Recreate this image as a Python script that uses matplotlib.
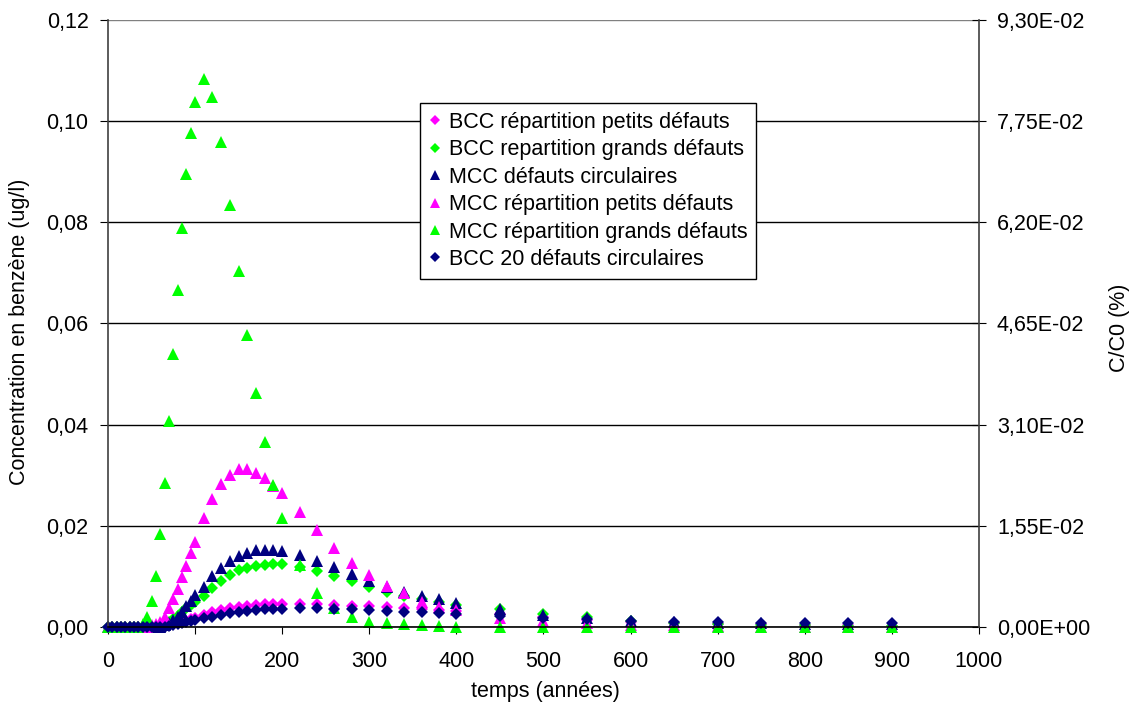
import matplotlib
matplotlib.use('Agg')
import matplotlib.pyplot as plt
from matplotlib.ticker import FuncFormatter

plt.rcParams['font.family'] = ['Liberation Sans', 'DejaVu Sans']

# temps (années)
temps = [0, 5, 10, 15, 20, 25, 30, 35, 40, 45, 50, 55, 60, 65, 70, 75, 80,
         85, 90, 95, 100,
         110, 120, 130, 140, 150, 160, 170, 180, 190, 200,
         220, 240, 260, 280, 300, 320, 340, 360, 380, 400,
         450, 500, 550, 600, 650, 700, 750, 800, 850, 900]

bcc_petits = [0, 0, 0, 0, 0, 0, 0, 0, 0, 0, 0, 0, 0.0001, 0.0002, 0.0003,
              0.0005, 0.0007, 0.0009, 0.0012, 0.0015, 0.0018,
              0.0024, 0.0029, 0.0033, 0.0037, 0.0040, 0.0042, 0.0044, 0.0045,
              0.0046, 0.0046,
              0.0046, 0.0045, 0.0044, 0.0042, 0.0041, 0.0039, 0.0037, 0.0035,
              0.0033, 0.0031,
              0.0025, 0.0019, 0.0014, 0.0010, 0.0008, 0.0006, 0.0005, 0.0004,
              0.0003, 0.0002]

bcc_grands = [0, 0, 0, 0, 0, 0, 0, 0, 0, 0, 0, 0, 0.0002, 0.0005, 0.0010,
              0.0015, 0.0022, 0.0030, 0.0037, 0.0043, 0.0049,
              0.0062, 0.0078, 0.0090, 0.0102, 0.0112, 0.0117, 0.0121, 0.0123,
              0.0124, 0.0124,
              0.0119, 0.0111, 0.0100, 0.0090, 0.0080, 0.0069, 0.0062, 0.0055,
              0.0049, 0.0044,
              0.0036, 0.0026, 0.0019, 0.0012, 0.0008, 0.0006, 0.0004, 0.0003,
              0.0002, 0.0002]

mcc_circ = [0, 0, 0, 0, 0, 0, 0, 0, 0, 0, 0, 0, 0.0001, 0.0003, 0.0007,
            0.0013, 0.0020, 0.0030, 0.0042, 0.0052, 0.0063,
            0.0080, 0.0100, 0.0116, 0.0130, 0.0141, 0.0146, 0.0152, 0.0153,
            0.0153, 0.0151,
            0.0143, 0.0131, 0.0118, 0.0105, 0.0090, 0.0079, 0.0070, 0.0062,
            0.0055, 0.0047,
            0.0035, 0.0024, 0.0017, 0.0012, 0.0009, 0.0008, 0.0007, 0.0006,
            0.0006, 0.0005]

mcc_petits = [0, 0, 0, 0, 0, 0, 0, 0, 0, 0.0001, 0.0003, 0.0005, 0.0010,
              0.0020, 0.0037, 0.0055, 0.0075, 0.0098, 0.0121, 0.0146, 0.0169,
              0.0215, 0.0253, 0.0283, 0.0301, 0.0312, 0.0312, 0.0305, 0.0294,
              0.0278, 0.0265,
              0.0227, 0.0191, 0.0156, 0.0127, 0.0103, 0.0081, 0.0067, 0.0050,
              0.0040, 0.0034,
              0.0018, 0.0011, 0.0007, 0.0004, 0.0003, 0.0002, 0.0001, 0.0001,
              0.0001, 0.0]

mcc_grands = [0, 0, 0, 0, 0, 0, 0, 0.0001, 0.0005, 0.0020, 0.0052, 0.0101,
              0.0184, 0.0285, 0.0407, 0.0539, 0.0667, 0.0788, 0.0895, 0.0976,
              0.1037,
              0.1083, 0.1048, 0.0958, 0.0835, 0.0704, 0.0578, 0.0463, 0.0365,
              0.0281, 0.0215,
              0.0122, 0.0068, 0.0038, 0.0020, 0.0010, 0.0007, 0.0005, 0.0003,
              0.0002, 0.0001,
              0, 0, 0, 0, 0, 0, 0, 0, 0, 0]

bcc_20 = [0, 0, 0, 0, 0, 0, 0, 0, 0, 0, 0, 0, 0, 0.0001, 0.0002, 0.0003,
          0.0005, 0.0007, 0.0009, 0.0011, 0.0013,
          0.0017, 0.0020, 0.0024, 0.0027, 0.0030, 0.0032, 0.0034, 0.0035,
          0.0036, 0.0036,
          0.0037, 0.0037, 0.0036, 0.0035, 0.0033, 0.0031, 0.0030, 0.0029,
          0.0027, 0.0026,
          0.0022, 0.0017, 0.0015, 0.0011, 0.0010, 0.0009, 0.0008, 0.0007,
          0.0007, 0.0007]

series = [
    ('BCC répartition petits défauts', bcc_petits, 'D', '#FF00FF'),
    ('BCC repartition grands défauts', bcc_grands, 'D', '#00FF00'),
    ('MCC défauts circulaires', mcc_circ, '^', '#000080'),
    ('MCC répartition petits défauts', mcc_petits, '^', '#FF00FF'),
    ('MCC répartition grands défauts', mcc_grands, '^', '#00FF00'),
    ('BCC 20 défauts circulaires', bcc_20, 'D', '#000080'),
]

FS = 15.5

fig = plt.figure(figsize=(11.33, 7.13), dpi=100)
ax = fig.add_axes([0.0953, 0.1206, 0.7687, 0.8514])

for label, vals, marker, color in series:
    ms = 8 if marker == '^' else 6.5
    ax.plot(temps, vals, linestyle='none', marker=marker, color=color,
            markersize=ms, markeredgewidth=0, label=label, clip_on=False)

ax.set_xlim(0, 1000)
ax.set_ylim(0, 0.12)
ax.set_xticks(range(0, 1001, 100))
ax.set_yticks([0, 0.02, 0.04, 0.06, 0.08, 0.10, 0.12])
ax.yaxis.set_major_formatter(
    FuncFormatter(lambda v, p: f'{v:.2f}'.replace('.', ',')))
ax.grid(axis='y', color='black', linewidth=1)
ax.set_axisbelow(True)
ax.spines['top'].set_visible(False)
ax.spines['right'].set_visible(False)
ax.spines['left'].set_color('#404040')
ax.spines['left'].set_linewidth(1.2)
ax.spines['bottom'].set_color('black')
ax.spines['bottom'].set_linewidth(1.2)
ax.tick_params(axis='x', labelsize=FS, direction='out', length=5, pad=12,
               color='black')
ax.tick_params(axis='y', labelsize=FS, direction='out', length=6, pad=8,
               color='black')
# top gridline is drawn lighter in the original
ax.get_ygridlines()[-1].set_color('#808080')

ax2 = ax.twinx()
ax2.set_ylim(0, 0.093)
ax2.set_yticks([0, 0.0155, 0.031, 0.0465, 0.062, 0.0775, 0.093])
ax2.yaxis.set_major_formatter(
    FuncFormatter(lambda v, p: f'{v:.2E}'.replace('.', ',')))
for s in ['top', 'left', 'bottom']:
    ax2.spines[s].set_visible(False)
ax2.spines['right'].set_color('#404040')
ax2.spines['right'].set_linewidth(1.2)
ax2.tick_params(labelsize=FS, direction='inout', length=10, pad=8,
                color='black')

fig.text(20 / 1133, 0.535, 'Concentration en benzène (ug/l)', fontsize=FS,
         rotation=90, ha='center', va='center')
fig.text(1119 / 1133, 0.54, 'C/C0 (%)', fontsize=FS,
         rotation=90, ha='center', va='center')
fig.text(545 / 1133, 21 / 713, 'temps (années)', fontsize=FS,
         ha='center', va='center')

leg = ax.legend(loc='upper left', bbox_to_anchor=(0.358, 0.863),
                borderaxespad=0, fontsize=FS, frameon=True, fancybox=False,
                framealpha=1, edgecolor='black', handlelength=0.6,
                handletextpad=0.35, borderpad=0.4, labelspacing=0.3,
                markerscale=0.85)
leg.get_frame().set_linewidth(1)
leg.set_zorder(10)

fig.savefig('out.png', dpi=100)
